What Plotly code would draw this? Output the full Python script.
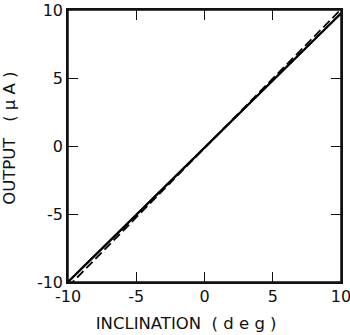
import plotly.graph_objects as go

# data
inclination = [-10, 10]
output_measured = [-10.0, 9.75]      # solid line
inclination_theory = [-10, 10]
output_theory = [-10.35, 10.05]      # dashed line

tick_vals = [-10, -5, 0, 5, 10]
tick_text = ["-10", "-5", "0", "5", "10"]

FAM = "DejaVu Sans, Liberation Sans, sans-serif"
NB = "&nbsp;"

fig = go.Figure()
fig.add_trace(go.Scatter(x=inclination, y=output_measured, mode="lines",
                         line=dict(color="black", width=2), showlegend=False))
fig.add_trace(go.Scatter(x=inclination_theory, y=output_theory, mode="lines",
                         line=dict(color="black", width=1.8, dash="9px,4px"),
                         showlegend=False))
# same solid data on a right-hand axis so its inside ticks are drawn
fig.add_trace(go.Scatter(x=inclination, y=output_measured, mode="lines", yaxis="y2",
                         line=dict(color="black", width=2), showlegend=False,
                         hoverinfo="skip"))

font = dict(family=FAM, color="#111", size=16)
axis_common = dict(
    tickvals=tick_vals, ticktext=tick_text, range=[-10, 10],
    showgrid=False, zeroline=False, showline=True, linecolor="#111",
    linewidth=1.5, mirror="ticks", ticks="inside", ticklen=10,
    tickwidth=1.3, tickcolor="#111", tickfont=font, automargin=False,
    ticklabeloverflow="allow",
)
title_font = dict(family=FAM, size=16.5, color="#111")
fig.update_xaxes(**axis_common, ticklabelstandoff=-1,
                 title=dict(text="INCLINATION" + NB * 2 + "( d e g )" + NB * 7,
                            font=title_font, standoff=12))
fig.update_yaxes(**axis_common, ticklabelstandoff=0,
                 title=dict(text=NB * 3 + "OUTPUT" + NB * 3 + "( μ A )",
                            font=title_font, standoff=20))
fig.update_layout(
    yaxis2=dict(overlaying="y", side="right", range=[-10, 10], tickvals=tick_vals,
                showticklabels=False, ticks="inside", ticklen=10, tickwidth=1.3,
                tickcolor="#111", showline=True, linecolor="#111", linewidth=1.5,
                showgrid=False, zeroline=False, automargin=False),
)
# frame around the plotting area
fig.add_shape(type="rect", xref="x domain", yref="y domain", x0=0, x1=1, y0=0, y1=1,
              line=dict(color="#111", width=1.5), layer="above")
fig.update_layout(width=350, height=335, margin=dict(l=68, r=9, t=10, b=53),
                  plot_bgcolor="white", paper_bgcolor="white")
# remove the browser's default 8px body margin so the figure fills the window
fig.write_html("out.html", config={"displayModeBar": False},
               post_script="document.body.style.margin='0';document.body.style.overflow='hidden';")
